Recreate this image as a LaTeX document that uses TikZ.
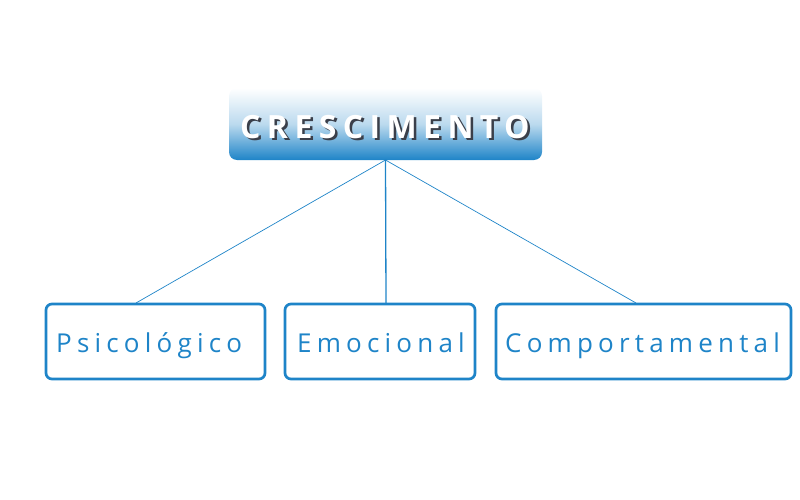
\documentclass[tikz,border=0pt]{standalone}
\usepackage{fontspec}
\setmainfont{Open Sans}
\newfontfamily\topfont[LetterSpace=20]{Open Sans Bold}
\newfontfamily\subfont[LetterSpace=20]{Open Sans}
\definecolor{cblue}{HTML}{1E84C8}
\definecolor{cshadow}{HTML}{3A3F4A}
\newcommand{\shadowtext}[1]{\rlap{\kern2.5pt\raisebox{-2.5pt}{\color{cshadow}#1}}#1}
\begin{document}
\begin{tikzpicture}[x=1pt,y=-1pt,
  subbox/.style={draw=cblue, line width=2.7pt, rounded corners=6pt, fill=white},
  subtext/.style={text=cblue, font=\subfont\fontsize{26}{30}\selectfont, inner sep=0pt},
  link/.style={draw=cblue, line width=0.7pt}]
\useasboundingbox (0,0) rectangle (800,500);
% top box
\shade[top color=white, bottom color=cblue, middle color=cblue!30, rounded corners=8pt, shading angle=0]
  (229,88) rectangle (542,160);
\coordinate (top) at (385.5,160);
\node[inner sep=0pt, text=white, font=\topfont\fontsize{32}{36}\selectfont] (title) at (385,128) {\shadowtext{CRESCIMENTO}};
% bottom boxes
\draw[subbox] (46,304) rectangle (265,379);
\draw[subbox] (285,304) rectangle (475,379);
\draw[subbox] (496,304) rectangle (791,379);
\coordinate (b1) at (136,303);
\coordinate (b2) at (386,303);
\coordinate (b3) at (636,303);
\node[subtext, anchor=base west] (p) at (56,352) {Psicológico};
\node[subtext, anchor=base west] (e) at (297,352) {Emocional};
\node[subtext, anchor=base west] (c) at (505,352) {Comportamental};
\draw[link] (top) -- (b1);
\draw[link, line width=1.3pt] (top) -- (b2);
\draw[link] (top) -- (b3);
\end{tikzpicture}
\end{document}
